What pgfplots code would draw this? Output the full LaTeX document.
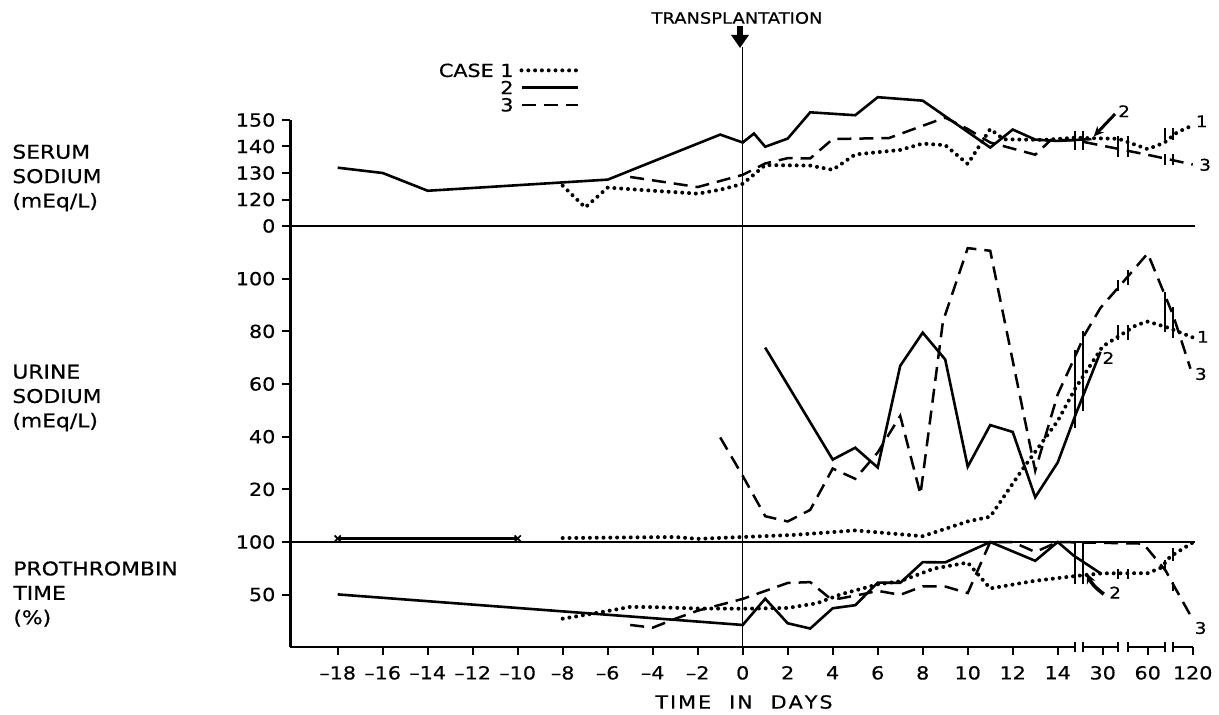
\documentclass[border=0pt]{standalone}
\usepackage{fontspec}
\setmainfont{DejaVu Sans}[FakeStretch=1.15, FakeBold=0.6]
\usepackage{pgfplots}
\pgfplotsset{compat=1.18}
\usetikzlibrary{arrows.meta}
\pgfplotsset{
 panel/.style={scale only axis, width=452.25pt, xmin=-20.1, xmax=20.1, clip=false,
   axis x line*=bottom, axis y line*=left,
   axis line style={line width=1.1pt,-},
   tick align=outside, major tick length=4pt,
   tick style={black, line width=1pt},
   ticklabel style={font=\fontsize{9}{10}\selectfont},
   xtick=\empty},
 c1/.style={black, line width=2pt, dash pattern=on 0pt off 3.4pt, line cap=round},
 c2/.style={black, line width=1.3pt},
 c3/.style={black, line width=1.25pt, dash pattern=on 7pt off 4pt},
}
\tikzset{
 brk/.style={black, line width=0.9pt},
 lab/.style={font=\fontsize{8}{9}\selectfont, inner sep=0pt},
 side/.style={anchor=west, align=left, inner sep=0pt, font=\fontsize{9.5}{12.2}\selectfont},
}
\begin{document}
\begin{tikzpicture}
\path[use as bounding box] (0,0) rectangle (609.5pt,357pt);

% ---------------- SERUM SODIUM ----------------
\begin{axis}[panel, at={(145.225pt,244pt)}, anchor=south west, height=53pt,
  ymin=110, ymax=150, ytick={110,120,130,140,150}, yticklabels={0,120,130,140,150},
  legend style={at={(0.320,1.553)}, anchor=north east, draw=none, fill=none, inner sep=0pt,
    row sep=0pt, column sep=2pt, font=\fontsize{9}{10}\selectfont,
    nodes={inner sep=1pt, text height=6.6pt, text depth=0pt}},
  legend plot pos=right, legend cell align=right,
  legend image code/.code={\draw[#1] (0pt,0pt) -- (28pt,0pt);}]
\addplot[c1] coordinates {(-8,125.2) (-7,117) (-6,124.5) (-4.5,123.6) (-2,122.2) (-1,123.7) (0,125.9) (1,133) (3,132.8) (4,131.2) (5,137) (7,138.7) (8,141.1) (9,140.5) (10,133.4) (11,146.6) (11.6,142.7) (13.4,142.5) (14.75,143.3) (16.7,142.9) (18,139) (18.75,141.5) (19.3,145.3) (20,148)};
\addlegendentry{CASE 1}
\addplot[c2] coordinates {(-18,132) (-16,130) (-14,123.3) (-6,127.5) (-1,144.5) (0,141.5) (0.5,144.9) (1,139.9) (2,143) (3,152.9) (5,151.8) (6,158.6) (8,157.3) (11,139.6) (12,146.4) (13,142.6) (14,142.1) (15.5,142.8)};
\addlegendentry{2}
\addplot[c3] coordinates {(-5,128.5) (-2,124.7) (0,129.3) (1,133.6) (2,135.6) (3,135.5) (4,142.8) (6.5,143.2) (9,150.9) (10,146.6) (11,141.5) (13,136.9) (13.7,142.5) (14.75,142.4) (16.7,139.1) (18.2,136.5) (20,133.2)};
\addlegendentry{3}
\draw[brk] (axis cs:14.77,138.5) -- (axis cs:14.77,146);
\draw[brk] (axis cs:15.11,138.5) -- (axis cs:15.11,146);
\draw[brk] (axis cs:16.69,136) -- (axis cs:16.69,144);
\draw[brk] (axis cs:17.11,136) -- (axis cs:17.11,144);
\draw[brk] (axis cs:18.77,142.5) -- (axis cs:18.77,147);
\draw[brk] (axis cs:19.11,142.5) -- (axis cs:19.11,147);
\draw[brk] (axis cs:18.77,133) -- (axis cs:18.77,137);
\draw[brk] (axis cs:19.11,133) -- (axis cs:19.11,137);
\node[lab] at (axis cs:20.4,149.5) {1};
\node[lab] at (axis cs:20.55,133.1) {3};
\node[lab] at (axis cs:16.95,153.3) {2};
\draw[black, line width=1.5pt, -{Stealth[length=5pt,width=4.5pt]}] (axis cs:16.55,152.3) -- (axis cs:15.6,143.8);
\end{axis}

% ---------------- URINE SODIUM ----------------
\begin{axis}[panel, at={(145.225pt,86pt)}, anchor=south west, height=158pt,
  ymin=0, ymax=120, ytick={20,40,60,80,100}, yticklabels={20,40,60,80,100}]
\addplot[c1] coordinates {(-8,1.5) (-3,1.9) (-2,1.2) (0,1.9) (2.3,2.7) (5,4.4) (8,2.2) (10,7.8) (11,9.6) (12.4,27.2) (14,46) (14.8,58.6) (16,74.3) (17.5,82.4) (18,83.7) (18.8,81.7) (20,77.7)};
\addplot[c2] coordinates {(1,73.8) (4,31.3) (5,35.8) (6,28.3) (7,66.9) (8,79.5) (9,69.3) (10,28.6) (11,44.4) (12,41.8) (13,17) (14,30.2) (14.8,48.5) (15.9,72.2)};
\addplot[black, line width=1.7pt, mark=x, mark size=2.2pt, mark options={line width=0.8pt}] coordinates {(-18,1.3) (-10,1.3)};
\addplot[c3] coordinates {(-1,39.7) (0,25.1) (1,9.8) (2,7.8) (3,12.2) (4,27.9) (5,24) (6,34) (7,47.9) (7.9,18.1) (8.9,83.8) (10,111.6) (11,110.6) (13,27.1) (14,56.1) (14.75,70) (15.2,78.8) (15.9,88.9) (16.8,97.7) (18,109.6) (19.13,86.1) (19.9,65.8)};
\draw[brk] (axis cs:14.77,43.4) -- (axis cs:14.77,73.1);
\draw[brk] (axis cs:15.11,49.9) -- (axis cs:15.11,80.3);
\draw[brk] (axis cs:16.69,76.8) -- (axis cs:16.69,82.5);
\draw[brk] (axis cs:17.11,76.8) -- (axis cs:17.11,82.5);
\draw[brk] (axis cs:16.69,95.2) -- (axis cs:16.69,99.6);
\draw[brk] (axis cs:17.11,97.7) -- (axis cs:17.11,103.4);
\draw[brk] (axis cs:18.77,79.8) -- (axis cs:18.77,95);
\draw[brk] (axis cs:19.11,77.3) -- (axis cs:19.11,89.3);
\node[lab] at (axis cs:20.45,77.9) {1};
\node[lab] at (axis cs:16.25,69.9) {2};
\node[lab] at (axis cs:20.36,63.8) {3};
\end{axis}

% ---------------- PROTHROMBIN TIME ----------------
\begin{axis}[panel, at={(145.225pt,33.5pt)}, anchor=south west, height=52.5pt,
  ymin=0, ymax=100, ytick={50,100}, yticklabels={50,100},
  x axis line style={draw=none},
  xtick={-18,-16,...,20},
  xticklabels={--18,--16,--14,--12,--10,--8,--6,--4,--2,0,2,4,6,8,10,12,14,30,60,120},
  xticklabel style={yshift=-2pt}]
\addplot[c1] coordinates {(-8,27) (-7,30.6) (-6,34.3) (-5,38.2) (-4,38) (-2,36.7) (0,36.5) (2,37.2) (3.3,41.7) (4.35,50.1) (6,59.7) (7,62.6) (8.5,74.7) (10,80.4) (11,55.8) (13,63.1) (14.7,67.4) (16,70.2) (18,70.3) (18.6,75.6) (19,86.1) (20,99.5)};
\addplot[c2] coordinates {(-18,50.1) (0,21) (1,46) (2,22.6) (3,17.6) (4,36.9) (5,39.8) (6,61.3) (7,61.1) (8,80.8) (9,80.6) (11,100) (13,82.1) (14,100) (14.7,87.2) (15.9,70.2)};
\addplot[c3] coordinates {(-5,21) (-4,18.4) (-3,26.9) (-2,34.6) (0,45.8) (2,61) (3,61.8) (3.8,47.7) (4.3,46.1) (5.4,50.6) (6,53.5) (7,49.7) (8,57.8) (9,57.6) (10,51.4) (11,100) (12,100) (13,90.5) (14,100) (17.8,98.5) (18.8,72.6) (19.15,58.9) (19.9,30.1)};
% broken x axis
\draw[black, line width=1.1pt] (axis cs:-20.1,0) -- (axis cs:14.77,0);
\draw[black, line width=1.1pt] (axis cs:15.11,0) -- (axis cs:16.69,0);
\draw[black, line width=1.1pt] (axis cs:17.11,0) -- (axis cs:18.77,0);
\draw[black, line width=1.1pt] (axis cs:19.11,0) -- (axis cs:20,0);
\pgfplotsinvokeforeach{14.77,15.11,16.69,17.11,18.77,19.11}{\draw[brk] (axis cs:#1,-4.8) -- (axis cs:#1,4.8);}
\draw[brk] (axis cs:14.77,60) -- (axis cs:14.77,100);
\draw[brk] (axis cs:15.11,60) -- (axis cs:15.11,100);
\draw[brk] (axis cs:16.69,65) -- (axis cs:16.69,74);
\draw[brk] (axis cs:17.11,65) -- (axis cs:17.11,74);
\draw[brk] (axis cs:18.77,73) -- (axis cs:18.77,83);
\draw[brk] (axis cs:19.11,82) -- (axis cs:19.11,94);
\draw[brk] (axis cs:19.11,53) -- (axis cs:19.11,62);
\node[lab] at (axis cs:16.55,51.8) {2};
\draw[black, line width=1.8pt, -{Stealth[length=5pt,width=4.5pt]}] (axis cs:16.05,50.4) to[bend left=15] (axis cs:15.3,70);
\node[lab] at (axis cs:20.35,18.1) {3};
% transplantation line
\draw[black, line width=0.7pt] (axis cs:0,0) -- (axis cs:0,571.4);
\end{axis}

% ---------------- texts ----------------
\node[side] at (6pt,268pt) {SERUM\\SODIUM\\(mEq/L)};
\node[side] at (6pt,158pt) {URINE\\SODIUM\\(mEq/L)};
\node[side] at (6.5pt,60pt) {PROTHROMBIN\\TIME\\(\%)};
\node[font=\fontsize{9}{10}\selectfont, inner sep=0pt] at (372pt,6pt) {T\kern1pt I\kern1pt M\kern1pt E\quad I\kern1pt N\quad D\kern1pt A\kern1pt Y\kern1pt S};
\node[font=\fontsize{7.8}{9}\selectfont, inner sep=0pt] at (368.5pt,348pt) {TRANSPLANTATION};
\draw[black, line width=2.8pt, -{Triangle[length=6.5pt,width=8.5pt]}] (370pt,344pt) -- (370pt,333pt);
\end{tikzpicture}
\end{document}
